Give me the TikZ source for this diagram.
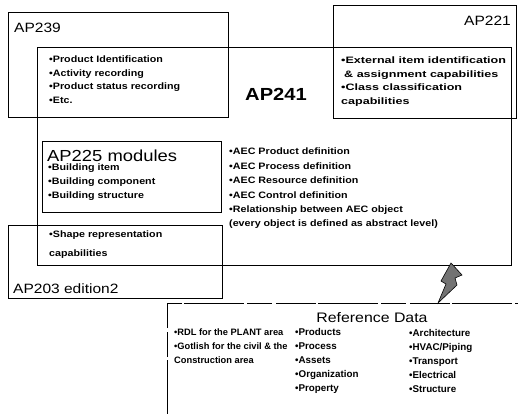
\documentclass[tikz,border=0pt]{standalone}
\usepackage{fontspec}
\setmainfont{Liberation Sans}[FakeStretch=1.15]
\newfontfamily\plainfont{Liberation Sans}
\newfontfamily\widefont{Liberation Sans}[FakeStretch=1.35]
\begin{document}
\begin{tikzpicture}[x=1pt,y=-1pt,
  box/.style={draw=black, line width=0.8pt, rectangle, anchor=north west, inner sep=0pt},
  lbl/.style={font=\fontsize{13.5}{15}\selectfont, inner sep=0pt},
  blt/.style={font=\bfseries\fontsize{9.3}{13.5}\selectfont, align=left, inner sep=0pt, anchor=north west},
  bltb/.style={font=\bfseries\fontsize{9.3}{14.4}\selectfont, align=left, inner sep=0pt, anchor=north west},
  rdt/.style={font=\plainfont\bfseries\fontsize{9.8}{14}\selectfont, align=left, inner sep=0pt, anchor=north west},
  refline/.style={line width=0.8pt, dash pattern=on 60pt off 3pt on 25pt off 4pt on 40pt off 2pt},
  bolt/.style={draw=black, line width=0.6pt, fill=black!55}
]
\useasboundingbox (0,0) rectangle (518,413);
\fill[white] (0,0) rectangle (518,413);

% boxes
\node[box, minimum width=220pt, minimum height=105pt] (ap239) at (8,12) {};
\node[box, minimum width=474pt, minimum height=218pt] (ap241) at (37,47) {};
\node[box, minimum width=183pt, minimum height=113pt] (ap221) at (333,5) {};
\node[box, minimum width=179pt, minimum height=71pt] (ap225) at (42,141) {};
\node[box, minimum width=214pt, minimum height=73pt] (ap203) at (8,225) {};

% reference data box (only top and left edges visible)
\coordinate (rd) at (167,303);
\coordinate (rdbot) at (167,420);
\coordinate (rdright) at (525,303);
\draw[refline] (rdbot) -- (rd) -- (rdright);

% lightning bolt
\draw[bolt] (451,263) -- (462,275) -- (455,278) -- (457,285) -- (438,303)
  -- (446,284) -- (441,281) -- cycle;

% labels
\node[lbl, anchor=base west] (t239) at (14,32) {AP239};
\node[lbl, anchor=base east] (t221) at (511,25) {AP221};
\node[lbl, anchor=base west] (t203) at (13,293) {AP203 edition2};
\node[font=\bfseries\fontsize{17.5}{19}\selectfont, inner sep=0pt, anchor=base] (t241) at (276,100) {AP241};
\node[font=\fontsize{16}{18}\selectfont, inner sep=0pt, anchor=base west] (t225) at (47,161) {AP225 modules};
\node[font=\fontsize{13.8}{15}\selectfont, inner sep=0pt, anchor=base] (trd) at (372,322) {Reference Data};

% bullet texts
\node[blt] (b239) at (49,56) {•Product Identification\\•Activity recording\\•Product status recording\\•Etc.};
\node[blt, font=\widefont\bfseries\fontsize{9.3}{13.5}\selectfont] (b221) at (341,57) {•External item identification\\\hspace{3pt}\& assignment capabilities\\•Class classification\\capabilities};
\node[blt, font=\bfseries\fontsize{9.3}{14}\selectfont] (b225) at (48,164) {•Building item\\•Building component\\•Building structure};
\node[bltb] (b241) at (229,148) {•AEC Product definition\\•AEC Process definition\\•AEC Resource definition\\•AEC Control definition\\•Relationship between AEC object\\(every object is defined as abstract level)};
\node[blt, font=\bfseries\fontsize{9.3}{19}\selectfont] (b203) at (49,231) {•Shape representation\\capabilities};

\node[rdt, font=\plainfont\bfseries\fontsize{9.3}{14}\selectfont] (rd1) at (174,329) {•RDL for the PLANT area\\•Gotlish for the civil \& the\\Construction area};
\node[rdt] (rd2) at (295,328) {•Products\\•Process\\•Assets\\•Organization\\•Property};
\node[rdt] (rd3) at (409,329) {•Architecture\\•HVAC/Piping\\•Transport\\•Electrical\\•Structure};
\end{tikzpicture}
\end{document}
